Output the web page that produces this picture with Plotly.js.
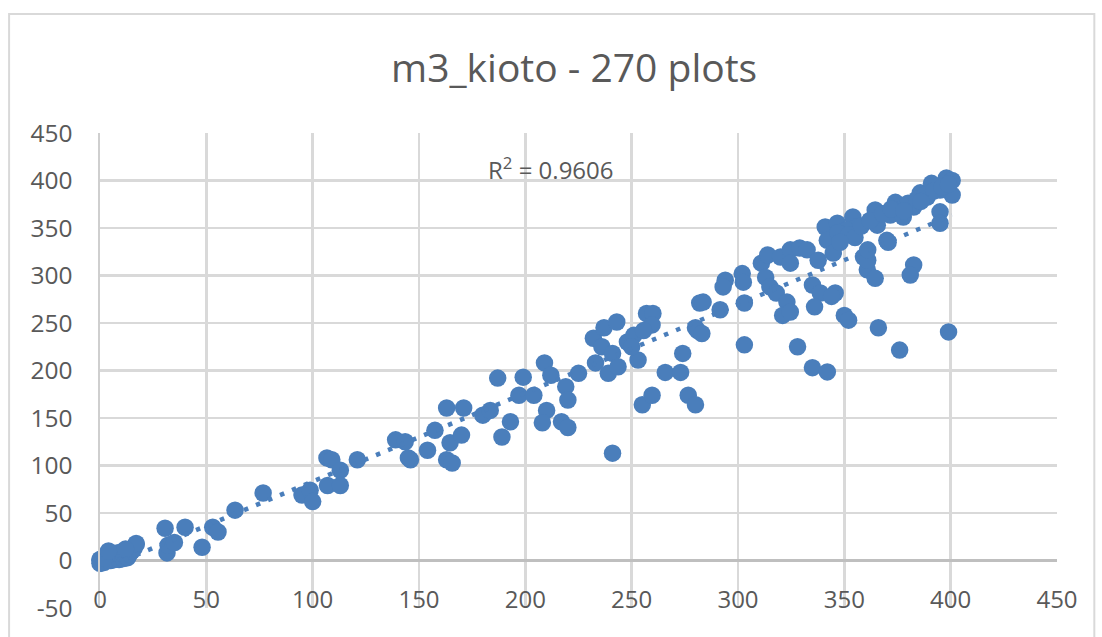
<!DOCTYPE html>
<html>
<head>
<meta charset="utf-8">
<script src="https://cdn.plot.ly/plotly-3.0.1.min.js"></script>
<style>html,body{margin:0;padding:0;background:#fff;}#chart{width:1102px;height:637px;}</style>
</head>
<body>
<div id="chart"></div>
<script>
const chartTitle = "m3_kioto - 270 plots";
const r2Label = "R<sup>2</sup> = 0.9606";
const xTickVals = [0, 50, 100, 150, 200, 250, 300, 350, 400, 450];
const yTickVals = [-50, 0, 50, 100, 150, 200, 250, 300, 350, 400, 450];

const xVals = [
  0,0,1,1,2,2,3,3,4,4,5,5,6,6,7,7,8,8,9,9,10,10,11,11,12,13,13,14,15,16,17,17,0,2,4,12,
  30.6,31.5,32,35,40,48,53,55.5,63.5,76.7,
  95,98.8,100,106.7,109,113,121,107,113,
  139,143.5,146,145,154,157.5,163,171,164.6,170,163,165.6,180,183.5,187,189,193,
  197,199,204,209,212,210,208,217,220,219,220,225,
  232,233,237,236,241,239,243,243.6,241,248,251,253,250,257,260,259.6,255.6,255,259.6,
  265.8,273,274,276.6,280,282,281,283.6,280,283,
  291.6,294,293,302,302.5,303,303,
  311,314,313,315,318,323,321,324.6,320,324.6,329,332.5,324.6,328,
  335,338.7,336,345.7,337.7,335,342,341,346.7,342,344.8,350,352,344,
  359,360.8,364.5,366,354,356,351,364.5,365.5,370,361,370.6,361,
  376,382.6,381,395,395,399,374,379.6,385.7,391,398,400.7,400.7,395,389,382.6,376,371.6,377.7,
  347,352,355,348,358,362,368,372,380,384,388,392,396,399,386,378
];
const yVals = [
  0,1,-1,2,0,3,1,5,2,6,0,4,2,7,1,5,3,8,1,6,4,9,2,7,5,3,10,7,10,13,17,18,-3,-2,10,12,
  34,8,16,19,35,14,35,30,53,71,
  69,74,62,108,106,95,106,79,79,
  127,125,106,108,116,137,160.5,160.5,124,132,106,102.6,153,158,192,130,146,
  174,193,174,208,195,158,145,146,140,183,169,197,
  234,208,245,225,218,197,251,204,113,230,237,211,225,260,260,248,242,164,174,
  198,198,218,174,164,271,242,272,245,239,
  264,295,288,302,293,271,227,
  313,321.6,298,288,281.6,272,258,261.6,319.5,327,329,327,313,225,
  290,281.6,267,281.6,316,203,198.5,351,355,337,323.7,258,253,278,
  319.5,306,297,245,361.6,351,348,369,353,337,316,335,327,
  221.5,311,300.5,367,355,240.6,377,374,387,397,402.6,400,384.7,390,382.6,372,369,363.7,361.6,
  345,343,340,335,352,358,365,370,376,380,385,389,393,396,378,368
];

// least-squares linear trendline computed from the data
const n = xVals.length;
let sx = 0, sy = 0, sxx = 0, sxy = 0;
for (let i = 0; i < n; i++) { sx += xVals[i]; sy += yVals[i]; sxx += xVals[i]*xVals[i]; sxy += xVals[i]*yVals[i]; }
const slope = (n*sxy - sx*sy) / (n*sxx - sx*sx);
const intercept = (sy - slope*sx) / n;
const xMin = Math.min(...xVals), xMax = Math.max(...xVals);

const blue = '#4A7EBB';
const textColor = '#595959';
const font = 'Open Sans, Liberation Sans, sans-serif';

const traces = [
  {
    x: xVals, y: yVals, type: 'scatter', mode: 'markers', cliponaxis: false,
    marker: {color: blue, size: 17.5, line: {width: 0}},
    hoverinfo: 'x+y', showlegend: false
  },
  {
    x: [xMin, xMax], y: [xMin*slope + intercept, xMax*slope + intercept],
    type: 'scatter', mode: 'lines', cliponaxis: false,
    line: {color: blue, width: 4.5, dash: '4.5px,8.5px'},
    hoverinfo: 'skip', showlegend: false
  }
];

const layout = {
  width: 1102, height: 637,
  margin: {l: 100, r: 45, t: 133, b: 29, pad: 0},
  paper_bgcolor: '#ffffff', plot_bgcolor: '#ffffff',
  font: {family: font, color: textColor, size: 24},
  title: {text: chartTitle, font: {family: font, size: 39, color: textColor},
          x: 0.521, xref: 'container', xanchor: 'center', y: 0.893, yref: 'container', yanchor: 'middle'},
  xaxis: {
    range: [0, 450], tickvals: xTickVals, ticktext: xTickVals.map(String),
    showgrid: true, gridcolor: '#d9d9d9', gridwidth: 2.5,
    zeroline: false, showline: false, ticks: '',
    anchor: 'free', position: 0.052,
    tickfont: {family: font, size: 24, color: textColor},
    fixedrange: true
  },
  yaxis: {
    range: [-50, 450], tickvals: yTickVals, ticktext: yTickVals.map(String),
    showgrid: true, gridcolor: '#d9d9d9', gridwidth: 2.5,
    zeroline: true, zerolinecolor: '#bfbfbf', zerolinewidth: 3.5,
    showline: true, linecolor: '#cfcfcf', linewidth: 2.5,
    ticks: '', ticklabelstandoff: 20,
    tickfont: {family: font, size: 24.5, color: textColor},
    fixedrange: true
  },
  annotations: [
    {text: r2Label, x: 212, y: 413, xref: 'x', yref: 'y', showarrow: false,
     font: {family: font, size: 24, color: textColor}, xanchor: 'center', yanchor: 'middle'}
  ],
  shapes: [
    {type: 'rect', xref: 'paper', yref: 'paper', x0: -0.095, x1: 1.039, y0: -0.2, y1: 1.2505,
     line: {color: '#d9d9d9', width: 2}, fillcolor: 'rgba(0,0,0,0)', layer: 'below'}
  ]
};

Plotly.newPlot('chart', traces, layout, {displayModeBar: false, staticPlot: true});
</script>
</body>
</html>
